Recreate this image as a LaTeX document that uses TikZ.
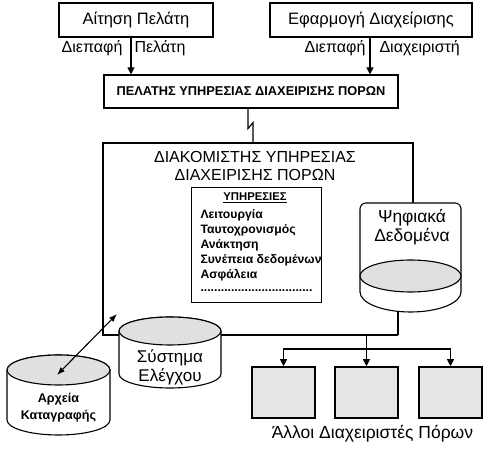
\documentclass[tikz,border=0pt]{standalone}
\usepackage{fontspec}
\setmainfont{Liberation Sans}
\usetikzlibrary{arrows.meta}
\definecolor{capgray}{gray}{0.88}
\definecolor{boxgray}{gray}{0.9}
\begin{document}
\begin{tikzpicture}[x=1pt,y=-1pt,line width=1.1pt,
  txt/.style={inner sep=0pt,font=\fontsize{16}{18}\selectfont},
  topbox/.style={draw,line width=1.2pt,inner sep=0pt,font=\fontsize{16.5}{18}\selectfont},
  item/.style={inner sep=0pt,anchor=west,font=\fontsize{12.2}{14}\selectfont\bfseries},
  arr/.style={-{Triangle[length=7pt,width=7pt]}},
  dbl/.style={{Latex[length=8pt,width=6pt]}-{Latex[length=8pt,width=6pt]}},
  other/.style={draw,fill=boxgray,line width=1.6pt,minimum width=63pt,minimum height=51pt,inner sep=0pt}]
\useasboundingbox (0,0) rectangle (491,449);
% top boxes
\node[topbox,minimum width=154pt,minimum height=34pt] (req) at (136,20) {Αίτηση Πελάτη};
\node[topbox,minimum width=202pt,minimum height=34pt] (app) at (371,20) {Εφαρμογή Διαχείρισης};
\node[topbox,minimum width=294pt,minimum height=33pt,font=\fontsize{12.8}{14}\selectfont\bfseries] (client) at (251,91.5) {ΠΕΛΑΤΗΣ ΥΠΗΡΕΣΙΑΣ ΔΙΑΧΕΙΡΙΣΗΣ ΠΟΡΩΝ};
\coordinate (xl) at (131,0);
\coordinate (xr) at (370,0);
\draw[arr] (req.south -| xl) -- (client.north -| xl);
\draw[arr] (app.south -| xr) -- (client.north -| xr);
\node[txt,anchor=east] (dl) at (123,48) {Διεπαφή};
\node[txt,anchor=west] (pl) at (134,48) {Πελάτη};
\node[txt,anchor=east] (dr) at (366,48) {Διεπαφή};
\node[txt,anchor=west] (ar) at (379,48) {Διαχειριστή};
% main box outline
\coordinate (mTR) at (413,143);
\coordinate (mTL) at (103,143);
\coordinate (mBL) at (103,335);
\coordinate (mBR) at (398,335);
\coordinate (mRC) at (413,204);
\coordinate (xb) at (248,0);
\coordinate (mTop) at (253,143);
\draw (client.south -| xb) -- ++(0,20) -- ++(5,-6) -- (mTop);
\draw (mRC) -- (mTR) -- (mTL) -- (mBL) -- (mBR);
\node[txt,align=center,font=\fontsize{16}{17.5}\selectfont] (srv) at (255,166) {ΔΙΑΚΟΜΙΣΤΗΣ ΥΠΗΡΕΣΙΑΣ\\ΔΙΑΧΕΙΡΙΣΗΣ ΠΟΡΩΝ};
% services box
\node[draw,line width=1.1pt,minimum width=130pt,minimum height=115pt,inner sep=0pt] (svc) at (256.5,245) {};
\node[inner sep=0pt,font=\fontsize{11.3}{13}\selectfont\bfseries] (svct) at (255,198) {\underline{ΥΠΗΡΕΣΙΕΣ}};
\node[item] (s1) at (200,215) {Λειτουργία};
\node[item] (s2) at (200,230) {Ταυτοχρονισμός};
\node[item] (s3) at (200,245) {Ανάκτηση};
\node[item] (s4) at (200,260) {Συνέπεια δεδομένων};
\node[item] (s5) at (200,275) {Ασφάλεια};
\node[item] (s6) at (200,291) {.................................};
% digital data cylinder
\draw[fill=white] (360,292) -- (360,209) arc[start angle=180,end angle=90,radius=6pt]
  -- (455,203) arc[start angle=90,end angle=0,radius=6pt]
  -- (461,292) arc[start angle=0,end angle=-180,x radius=50.5pt,y radius=20pt] -- cycle;
\draw[fill=capgray] (410.5,276) ellipse[x radius=50.5pt,y radius=16pt];
\node[inner sep=0pt,minimum width=101pt,minimum height=109pt] (dig) at (410.5,257.5) {};
\node[txt,align=center,font=\fontsize{17.4}{19}\selectfont] (digt) at (412,227) {Ψηφιακά\\Δεδομένα};
\coordinate (digb) at (398,311.4);
\draw (digb) -- (mBR);
% control system cylinder
\draw[fill=white] (119,331) -- (119,374) arc[start angle=180,end angle=360,x radius=51pt,y radius=14pt]
  -- (221,331) arc[start angle=0,end angle=180,x radius=51pt,y radius=14pt] -- cycle;
\draw[fill=capgray] (170,331) ellipse[x radius=51pt,y radius=14pt];
\node[txt,align=center,font=\fontsize{17}{19}\selectfont] (ctl) at (170,367) {Σύστημα\\Ελέγχου};
% log files cylinder
\draw[fill=white] (7,370) -- (7,420) arc[start angle=180,end angle=360,x radius=51.5pt,y radius=15pt]
  -- (110,370) arc[start angle=0,end angle=180,x radius=51.5pt,y radius=15pt] -- cycle;
\draw[fill=capgray] (58.5,370) ellipse[x radius=51.5pt,y radius=15pt];
\node[txt,align=center,font=\fontsize{12.6}{17}\selectfont\bfseries] (logt) at (58.5,408) {Αρχεία\\Καταγραφής};
\coordinate (la) at (57,375);
\coordinate (lb) at (117,314);
\draw[dbl] (la) -- (lb);
% other managers
\node[other] (o1) at (283.5,392.5) {};
\node[other] (o2) at (366.5,392.5) {};
\node[other] (o3) at (450.5,392.5) {};
\coordinate (br0) at (366.5,335);
\coordinate (br1) at (366.5,349);
\draw (br0) -- (br1);
\draw[arr] (br1) -- (o2.north);
\draw[arr] (br1) -| (o1.north);
\draw[arr] (br1) -| (o3.north);
\node[txt,font=\fontsize{17.5}{19}\selectfont] (oth) at (372.5,434) {Άλλοι Διαχειριστές Πόρων};
\end{tikzpicture}
\end{document}
